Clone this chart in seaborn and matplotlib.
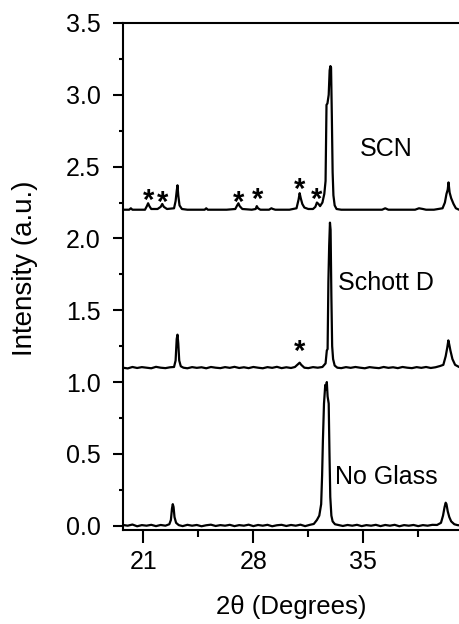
import numpy as np
import pandas as pd
import matplotlib
matplotlib.use("Agg")
import matplotlib.pyplot as plt
from matplotlib.ticker import MultipleLocator
import seaborn as sns

# ---------------- data ----------------
# No Glass trace (offset 0.0)
ng_x = [19.7, 20.0, 20.3, 20.6, 20.9, 21.2, 21.5, 21.8, 22.1, 22.4,
        22.65, 22.75, 22.82, 22.87, 22.92, 22.98, 23.08, 23.25, 23.5, 23.8,
        24.1, 24.4, 24.7, 25.0, 25.3, 25.6, 25.9, 26.2, 26.5, 26.8,
        27.1, 27.4, 27.7, 28.0, 28.3, 28.6, 28.9, 29.2, 29.5, 29.8,
        30.1, 30.4, 30.7, 31.0, 31.3, 31.6, 31.85, 32.05, 32.2, 32.32,
        32.38, 32.43, 32.5, 32.58, 32.63, 32.68, 32.73, 32.8, 32.85, 32.9,
        32.97, 33.05, 33.2, 33.45, 33.7, 34.0, 34.3, 34.6, 34.9, 35.2,
        35.5, 35.8, 36.1, 36.4, 36.7, 37.0, 37.3, 37.6, 37.9, 38.2,
        38.5, 38.8, 39.1, 39.4, 39.7, 39.95, 40.08, 40.18, 40.25, 40.3,
        40.38, 40.48, 40.6, 40.8, 41.0, 41.3, 41.5]
ng_y = [0.005, 0.0, 0.008, -0.004, 0.004, 0.0, 0.006, -0.003, 0.005, 0.0,
        0.01, 0.04, 0.12, 0.15, 0.13, 0.06, 0.02, 0.004, -0.003, 0.006,
        0.0, 0.005, -0.004, 0.003, 0.007, -0.002, 0.004, 0.0, 0.006, -0.003,
        0.004, 0.0, 0.007, -0.003, 0.005, 0.0, 0.006, -0.004, 0.003, 0.006,
        -0.002, 0.005, 0.0, 0.007, -0.003, 0.006, 0.012, 0.04, 0.07, 0.15,
        0.35, 0.59, 0.85, 0.98, 0.95, 1.0, 0.9, 0.85, 0.5, 0.2,
        0.07, 0.03, 0.01, 0.004, -0.002, 0.005, 0.0, 0.006, -0.003, 0.004,
        0.0, 0.006, -0.003, 0.005, 0.0, 0.006, -0.004, 0.004, 0.0, 0.005,
        -0.003, 0.004, 0.0, 0.006, 0.005, 0.02, 0.07, 0.13, 0.16, 0.15,
        0.1, 0.06, 0.03, 0.01, 0.004, 0.0, 0.005]

# Schott D trace (offset ~1.1)
sd_x = [19.7, 20.0, 20.3, 20.6, 20.9, 21.2, 21.5, 21.8, 22.1, 22.4,
        22.7, 22.95, 23.05, 23.12, 23.17, 23.22, 23.28, 23.38, 23.55, 23.8,
        24.1, 24.4, 24.7, 25.0, 25.3, 25.6, 25.9, 26.2, 26.5, 26.8,
        27.1, 27.4, 27.7, 28.0, 28.3, 28.6, 28.9, 29.2, 29.5, 29.8,
        30.1, 30.4, 30.65, 30.85, 30.95, 31.05, 31.25, 31.5, 31.8, 32.1,
        32.4, 32.6, 32.68, 32.73, 32.78, 32.83, 32.88, 32.92, 32.97, 33.02,
        33.08, 33.18, 33.35, 33.6, 33.9, 34.2, 34.5, 34.8, 35.1, 35.4,
        35.7, 36.0, 36.3, 36.6, 36.9, 37.2, 37.5, 37.8, 38.1, 38.4,
        38.7, 39.0, 39.3, 39.6, 39.9, 40.1, 40.25, 40.35, 40.42, 40.48,
        40.55, 40.68, 40.85, 41.1, 41.5]
sd_y = [1.10, 1.095, 1.105, 1.098, 1.104, 1.10, 1.096, 1.106, 1.10, 1.097,
        1.103, 1.105, 1.15, 1.30, 1.33, 1.27, 1.15, 1.11, 1.10, 1.096,
        1.104, 1.099, 1.103, 1.096, 1.105, 1.10, 1.097, 1.104, 1.099, 1.106,
        1.098, 1.103, 1.097, 1.105, 1.10, 1.096, 1.104, 1.099, 1.106, 1.097,
        1.103, 1.098, 1.105, 1.125, 1.135, 1.12, 1.10, 1.097, 1.104, 1.10,
        1.105, 1.13, 1.22, 1.23, 1.70, 1.95, 2.11, 2.06, 1.60, 1.25,
        1.16, 1.115, 1.10, 1.097, 1.104, 1.099, 1.105, 1.10, 1.096, 1.104,
        1.10, 1.097, 1.105, 1.099, 1.103, 1.097, 1.105, 1.10, 1.097, 1.104,
        1.099, 1.105, 1.098, 1.103, 1.112, 1.12, 1.18, 1.24, 1.29, 1.26,
        1.22, 1.16, 1.12, 1.105, 1.10]

# SCN trace (offset 2.2)
sc_x = [19.7, 20.1, 20.2, 20.3, 20.7, 21.1, 21.22, 21.3, 21.38, 21.5,
        21.9, 22.1, 22.2, 22.3, 22.5, 22.95, 23.05, 23.12, 23.17, 23.22,
        23.3, 23.45, 23.8, 24.5, 24.9, 25.0, 25.1, 25.6, 26.3, 26.85,
        26.97, 27.05, 27.13, 27.3, 27.9, 28.15, 28.22, 28.3, 28.45, 29.0,
        29.15, 29.25, 29.4, 30.3, 30.75, 30.88, 30.95, 31.02, 31.12, 31.25,
        31.5, 31.8, 31.95, 32.05, 32.15, 32.25, 32.4, 32.52, 32.6, 32.66,
        32.72, 32.8, 32.86, 32.91, 32.95, 33.0, 33.05, 33.1, 33.18, 33.3,
        33.6, 34.5, 35.5, 36.2, 36.4, 36.6, 37.5, 38.3, 38.55, 38.8,
        39.0, 39.5, 40.05, 40.2, 40.3, 40.38, 40.43, 40.5, 40.6, 40.75,
        40.9, 41.1, 41.5]
sc_y = [2.20, 2.20, 2.21, 2.20, 2.20, 2.20, 2.225, 2.245, 2.225, 2.205,
        2.205, 2.22, 2.24, 2.22, 2.205, 2.21, 2.26, 2.33, 2.37, 2.30,
        2.23, 2.205, 2.20, 2.20, 2.20, 2.21, 2.20, 2.20, 2.20, 2.205,
        2.23, 2.245, 2.225, 2.205, 2.20, 2.205, 2.225, 2.21, 2.20, 2.20,
        2.21, 2.205, 2.20, 2.20, 2.21, 2.27, 2.315, 2.28, 2.24, 2.215,
        2.205, 2.205, 2.22, 2.25, 2.24, 2.225, 2.25, 2.31, 2.40, 2.93,
        2.94, 3.0, 3.17, 3.2, 3.19, 2.85, 2.46, 2.30, 2.23, 2.205,
        2.20, 2.20, 2.20, 2.20, 2.21, 2.20, 2.20, 2.20, 2.21, 2.205,
        2.20, 2.20, 2.21, 2.25, 2.31, 2.34, 2.39, 2.32, 2.28, 2.24,
        2.21, 2.20, 2.20]

# asterisk marks (x, y centre)
star_x = [21.3, 22.2, 27.05, 28.25, 30.95, 32.05, 30.95]
star_y = [2.32, 2.31, 2.31, 2.33, 2.40, 2.33, 1.27]

# sample labels
label_text = ["SCN", "Schott D", "No Glass"]
label_x = [34.8, 33.4, 33.2]
label_y = [2.62, 1.69, 0.34]

x_ticks = [21, 28, 35]
y_ticks = [0.0, 0.5, 1.0, 1.5, 2.0, 2.5, 3.0, 3.5]

# ---------------- build table ----------------
df = pd.concat([
    pd.DataFrame({"x": ng_x, "y": ng_y, "sample": "No Glass"}),
    pd.DataFrame({"x": sd_x, "y": sd_y, "sample": "Schott D"}),
    pd.DataFrame({"x": sc_x, "y": sc_y, "sample": "SCN"}),
], ignore_index=True)

sns.set_style("ticks")
plt.rcParams["font.family"] = ["Liberation Sans", "DejaVu Sans"]
plt.rcParams["axes.linewidth"] = 1.5
for k in ["text.color", "axes.labelcolor", "xtick.color", "ytick.color",
          "axes.edgecolor"]:
    plt.rcParams[k] = "black"

FS = 18

fig = plt.figure(figsize=(4.59, 6.24), dpi=100)
ax = fig.add_axes([123 / 459, 1 - 530 / 624, 342 / 459, 507 / 624])

sns.lineplot(data=df, x="x", y="y", units="sample", estimator=None,
             sort=False, color="black", linewidth=1.6, ax=ax)

for sx, sy in zip(star_x, star_y):
    ax.annotate("*", (sx, sy), xytext=(0, -12.0), textcoords="offset points",
                ha="center", va="baseline", fontsize=21, fontweight="bold")

for t, lx, ly in zip(label_text, label_x, label_y):
    ax.text(lx, ly, t, ha="left", va="center", fontsize=FS)

ax.set_xlim(19.7, 41.48)
ax.set_ylim(-0.03, 3.5)
ax.set_xticks(x_ticks)
ax.set_yticks(y_ticks)
ax.xaxis.set_minor_locator(MultipleLocator(3.5))
ax.yaxis.set_minor_locator(MultipleLocator(0.25))

ax.tick_params(axis="both", which="major", direction="out", width=1.5,
               labelsize=FS)
ax.tick_params(axis="y", which="major", length=7, pad=9)
ax.tick_params(axis="y", which="minor", length=3, width=1.5, direction="out")
ax.tick_params(axis="x", which="major", length=9, pad=5.5)
ax.tick_params(axis="x", which="minor", length=5, width=1.5, direction="out")

ax.spines["right"].set_visible(False)
ax.spines["top"].set_visible(True)

ax.set_xlabel("2θ (Degrees)", fontsize=FS + 0.5, va="center")
ax.set_ylabel("Intensity (a.u.)", fontsize=FS + 2, va="center")
ax.xaxis.set_label_coords((291 - 123) / 342, (530 - 607) / 507)
ax.yaxis.set_label_coords((25 - 123) / 342, (530 - 268) / 507)

fig.savefig("out.png", dpi=100)
